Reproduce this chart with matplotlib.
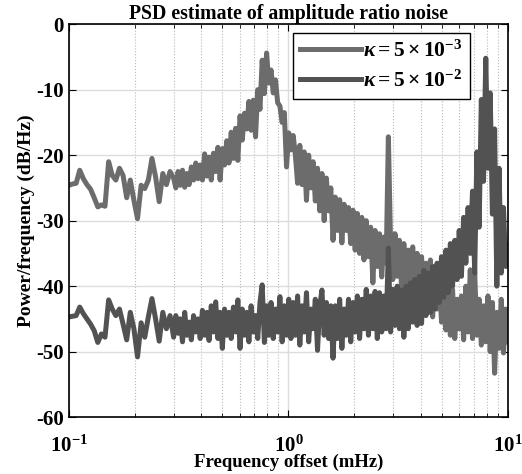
import numpy as np
import matplotlib
matplotlib.use('Agg')
import matplotlib.pyplot as plt

# frequency bins (mHz): coarser below 0.3 mHz, finer above
freq_lo = np.geomspace(0.1, 0.3, 29, endpoint=False)
freq_hi = np.geomspace(0.3, 10.0, 152)
freq = np.concatenate([freq_lo, freq_hi])

# PSD (dB/Hz), kappa = 5e-3
psd_k1_lo = [-24.6, -24.4, -24.3, -22.3, -23.6, -24.5, -25.2, -26.5, -27.9, -27.6,
             -27.8, -21.0, -23.1, -23.8, -22.0, -23.1, -26.5, -23.8, -26.9, -29.7,
             -24.6, -25.1, -23.8, -20.5, -23.3, -27.1, -22.8, -24.5, -22.5]
psd_k1_hi = [-23.5, -25.0, -22.5, -24.6, -22.3, -24.9, -22.8, -24.5, -21.8, -23.8,
             -21.2, -23.6, -21.5, -23.8, -19.8, -23.2, -20.3, -23.8, -19.7, -22.5,
             -18.8, -23.8, -19.0, -21.5, -17.8, -21.2, -16.5, -20.5, -15.9, -20.8,
             -14.0, -17.7, -13.6, -16.0, -11.8, -16.2, -11.6, -17.2, -10.0, -13.0,
             -5.5, -10.6, -4.4, -9.0, -7.0, -10.5, -8.5, -12.0, -12.5, -15.0,
             -13.5, -21.8, -16.6, -19.2, -17.0, -20.0, -24.3, -18.5, -24.5, -19.5,
             -26.9, -20.0, -25.0, -21.0, -27.0, -22.0, -28.5, -22.8, -30.0, -23.5,
             -28.5, -25.0, -33.0, -26.4, -31.5, -26.8, -33.4, -27.5, -31.5, -28.0,
             -33.5, -28.4, -34.5, -28.9, -35.0, -29.5, -36.0, -30.0, -35.5, -31.0,
             -39.5, -31.5, -37.0, -32.0, -38.6, -32.5, -36.5, -17.2, -33.5, -39.0,
             -32.0, -38.5, -33.0, -40.6, -33.5, -40.0, -34.5, -41.0, -34.0, -40.5,
             -35.0, -42.0, -35.5, -43.0, -36.5, -44.0, -36.0, -44.7, -37.5, -43.5,
             -38.0, -45.5, -40.0, -46.7, -41.0, -47.5, -40.5, -48.0, -42.0, -46.5,
             -41.5, -48.2, -40.0, -47.0, -37.5, -48.0, -38.0, -47.5, -42.0, -49.0,
             -43.0, -48.5, -41.5, -50.0, -42.5, -53.3, -44.0, -49.5, -42.0, -50.2,
             -43.5, -48.5]

# kappa = 5e-2
psd_k2_lo = [-44.7, -44.6, -44.5, -43.2, -44.2, -45.0, -45.8, -46.8, -48.6, -47.3,
             -47.8, -42.1, -43.5, -44.5, -43.5, -45.8, -48.2, -44.0, -46.5, -50.8,
             -45.6, -47.8, -44.7, -41.9, -45.0, -48.4, -44.0, -46.5, -44.5]
psd_k2_hi = [-47.8, -44.5, -47.2, -45.0, -48.5, -44.0, -47.5, -45.5, -48.2, -44.5,
             -47.0, -45.0, -48.0, -43.7, -47.5, -44.0, -48.3, -43.0, -47.0, -42.4,
             -48.0, -44.0, -49.5, -43.5, -47.5, -44.0, -48.0, -43.2, -47.0, -42.1,
             -49.5, -43.5, -47.5, -44.0, -48.5, -43.0, -47.0, -44.5, -48.0, -42.5,
             -39.8, -48.6, -43.0, -47.5, -42.5, -48.0, -43.5, -47.0, -41.6, -48.5,
             -43.0, -47.5, -42.0, -48.0, -42.5, -47.5, -41.5, -49.0, -43.0, -47.0,
             -41.0, -48.5, -43.5, -46.5, -42.0, -49.8, -43.0, -40.6, -47.5, -42.5,
             -48.0, -43.0, -51.0, -43.0, -48.0, -42.0, -49.5, -43.5, -47.5, -42.0,
             -48.5, -42.5, -47.0, -41.5, -48.0, -42.0, -46.5, -40.5, -47.5, -41.5,
             -46.5, -40.8, -48.0, -41.0, -47.0, -41.5, -46.5, -34.2, -47.0, -40.5,
             -46.0, -40.0, -46.5, -40.6, -47.8, -40.0, -46.5, -39.5, -45.5, -39.0,
             -46.0, -38.5, -45.7, -37.6, -44.5, -38.0, -44.0, -37.0, -43.5, -36.5,
             -42.5, -35.5, -41.7, -34.5, -41.0, -33.5, -40.0, -33.0, -39.0, -31.5,
             -38.5, -29.5, -36.5, -28.0, -35.0, -25.5, -38.0, -19.5, -31.0, -11.5,
             -24.0, -5.2, -22.0, -10.5, -29.0, -16.0, -40.0, -22.0, -38.0, -28.0,
             -37.0, -33.5]

psd_k1 = psd_k1_lo + psd_k1_hi
psd_k2 = psd_k2_lo + psd_k2_hi

labels = [r'$\kappa = 5\times10^{-3}$', r'$\kappa = 5\times10^{-2}$']
colors = ['#6c6c6c', '#525252']

plt.rcParams['font.family'] = 'Liberation Serif'
plt.rcParams['font.weight'] = 'bold'
plt.rcParams['mathtext.fontset'] = 'custom'
plt.rcParams['mathtext.rm'] = 'Liberation Serif:bold'
plt.rcParams['mathtext.it'] = 'Liberation Serif:italic:bold'
plt.rcParams['mathtext.bf'] = 'Liberation Serif:bold'
plt.rcParams['axes.unicode_minus'] = False

fig = plt.figure(figsize=(5.22, 4.74), dpi=100)
ax = fig.add_axes([0.132, 0.120, 0.841, 0.829])

ax.semilogx(freq, psd_k1, color=colors[0], lw=3.6, label=labels[0])
ax.semilogx(freq, psd_k2, color=colors[1], lw=3.6, label=labels[1])

ax.set_xlim(0.1, 10)
ax.set_ylim(-60, 0)
ax.set_yticks(np.arange(-60, 1, 10))
ax.grid(which='major', color='#dcdcdc', lw=1.0, ls='-')
ax.grid(which='minor', axis='x', color='#b8b8b8', lw=0.8, ls=':')
ax.set_axisbelow(True)
ax.tick_params(which='both', direction='in', top=True, right=True, labelsize=15)
ax.tick_params(axis='x', pad=13)
ax.tick_params(which='major', length=5)
ax.tick_params(which='minor', length=3)
for s in ax.spines.values():
    s.set_linewidth(1.2)

ax.set_title('PSD estimate of amplitude ratio noise', fontsize=14.2, fontweight='bold', pad=3)
ax.set_xlabel('Frequency offset (mHz)', fontsize=13.5, fontweight='bold', labelpad=-2)
ax.set_ylabel('Power/frequency (dB/Hz)', fontsize=14, fontweight='bold', labelpad=1)

leg = ax.legend(loc='upper left', bbox_to_anchor=(0.51, 0.977), fontsize=15.5,
                handlelength=2.8, fancybox=False, framealpha=1, edgecolor='black',
                borderpad=0.35, labelspacing=0.4, handletextpad=0.1, borderaxespad=0)
leg.get_frame().set_linewidth(1.0)

fig.savefig('out.png', dpi=100)
